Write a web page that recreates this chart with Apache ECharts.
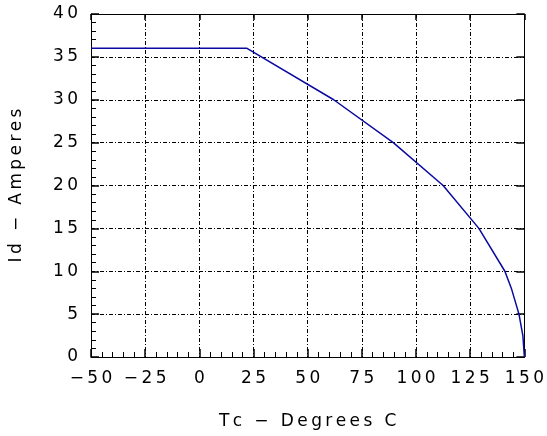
<!DOCTYPE html>
<html><head><meta charset="utf-8">
<script src="https://cdn.jsdelivr.net/npm/echarts@6/dist/echarts.min.js"></script>
<style>html,body{margin:0;padding:0;background:#fff}#c{width:547px;height:436px}</style>
</head><body><div id="c"></div>
<script>
const tempC = [-50, 22, 62, 89.5, 112.5, 129, 141, 144, 147.5, 149.3, 150];
const idAmps = [36, 36, 30, 25, 20, 15, 10, 8, 5, 2.5, 0];
const xTicks = [-50, -25, 0, 25, 50, 75, 100, 125, 150];
const yTicks = [0, 5, 10, 15, 20, 25, 30, 35, 40];
const xTitle = 'Tc \u2212 Degrees C';
const yTitle = 'Id \u2212 Amperes';

const sp = s => String(s).split('').join('\u2009');
const chart = echarts.init(document.getElementById('c'));
const font = 'DejaVu Sans';
const grid = {type: [4, 2, 1, 2], color: '#000', width: 1};
chart.setOption({
  animation: false,
  grid: {left: 91, right: 21, top: 14, bottom: 79, containLabel: false},
  xAxis: [{
    type: 'value', min: xTicks[0], max: xTicks[xTicks.length-1], interval: 25,
    axisLine: {show: true, onZero: false, lineStyle: {color: '#000', width: 1}},
    axisTick: {show: true, inside: true, length: 8, lineStyle: {color: '#000', width: 1.5}},
    minorTick: {show: true, splitNumber: 5, length: 5, lineStyle: {color: '#000'}},
    splitLine: {show: true, lineStyle: grid},
    axisLabel: {color: '#000', fontSize: 17, fontFamily: font, margin: 13,
      formatter: v => sp(String(v).replace('-', '\u2212'))},
    name: sp(xTitle), nameLocation: 'middle', nameGap: 56,
    nameTextStyle: {color: '#000', fontSize: 17, fontFamily: font}
  }, {
    type: 'value', position: 'top', min: -50, max: 150, interval: 25,
    axisLine: {show: true, onZero: false, lineStyle: {color: '#000', width: 1}},
    axisTick: {show: true, inside: true, length: 6, lineStyle: {color: '#000', width: 1.5}},
    axisLabel: {show: false}, splitLine: {show: false}
  }],
  yAxis: [{
    type: 'value', min: yTicks[0], max: yTicks[yTicks.length-1], interval: 5,
    axisLine: {show: true, onZero: false, lineStyle: {color: '#000', width: 1}},
    axisTick: {show: true, inside: true, length: 8, lineStyle: {color: '#000', width: 1.5}},
    minorTick: {show: true, splitNumber: 5, length: 5, lineStyle: {color: '#000'}},
    splitLine: {show: true, lineStyle: grid},
    axisLabel: {color: '#000', fontSize: 17, fontFamily: font, margin: 13, formatter: v => sp(v)},
    name: sp(yTitle), nameLocation: 'middle', nameGap: 66, nameRotate: 90,
    nameTextStyle: {color: '#000', fontSize: 17, fontFamily: font}
  }, {
    type: 'value', position: 'right', min: 0, max: 40, interval: 5,
    axisLine: {show: true, onZero: false, lineStyle: {color: '#000', width: 1}},
    axisTick: {show: true, inside: true, length: 8, lineStyle: {color: '#000', width: 1.5}},
    axisLabel: {show: false}, splitLine: {show: false}
  }],
  series: [{
    type: 'line', data: tempC.map((t, i) => [t, idAmps[i]]),
    showSymbol: false, smooth: false,
    lineStyle: {color: '#0a0aa0', width: 1.5}
  }]
});
</script></body></html>
